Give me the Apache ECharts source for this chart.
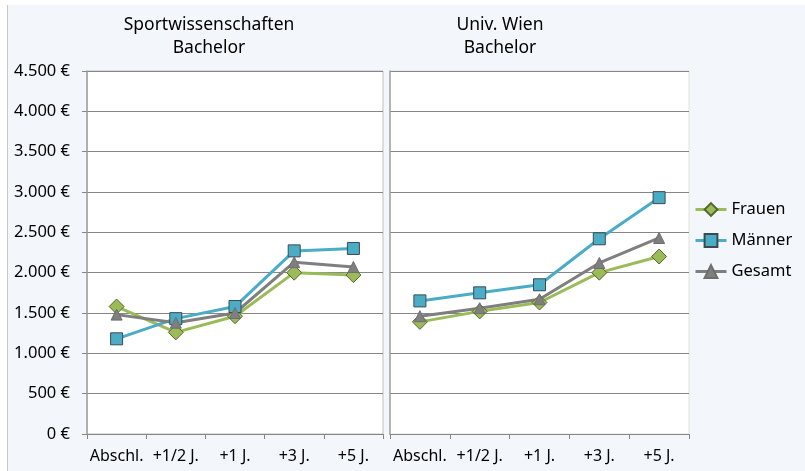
<!DOCTYPE html>
<html>
<head>
<meta charset="utf-8">
<title>Einkommen Bachelor</title>
<script src="https://cdn.jsdelivr.net/npm/echarts@6.0.0/dist/echarts.min.js"></script>
<style>
	html, body { margin: 0; padding: 0; background: #fff; }
	#chart_1 { width: 805px; height: 471px; }
</style>
</head>
<body>
<div id="chart_1"></div>
<script>
var categories = ['Abschl.', '+1/2 J.', '+1 J.', '+3 J.', '+5 J.'];
var seriesNames = ['Frauen', 'Männer', 'Gesamt'];
var panelTitles = ['Sportwissenschaften\nBachelor', 'Univ. Wien\nBachelor'];

// Sportwissenschaften Bachelor
var sportFrauen = [1580, 1260, 1460, 2000, 1970];
var sportMaenner = [1180, 1430, 1580, 2270, 2300];
var sportGesamt = [1480, 1380, 1500, 2130, 2070];

// Univ. Wien Bachelor
var wienFrauen = [1390, 1520, 1630, 2000, 2200];
var wienMaenner = [1650, 1750, 1850, 2420, 2930];
var wienGesamt = [1460, 1560, 1670, 2120, 2430];

var yMin = 0, yMax = 4500, yStep = 500;

(function() {
	var myChart = echarts.init(document.getElementById('chart_1'));
	var font = 'Noto Sans';
	var gridLine = '#868686';

	function euro(v) {
		return String(v).replace(/\B(?=(\d{3})+(?!\d))/g, '.') + ' €';
	}

	var styles = [{
		color: '#9BBB59', symbol: 'diamond', symbolSize: 15, border: '#55652f'
	}, {
		color: '#4BACC6', symbol: 'rect', symbolSize: 12, border: '#3b4a50'
	}, {
		color: '#7F7F7F', symbol: 'triangle', symbolSize: 11, border: '#6e6e6e'
	}];

	function makeSeries(name, data, idx, st) {
		return {
			name: name,
			type: 'line',
			xAxisIndex: idx,
			yAxisIndex: idx,
			data: data,
			symbol: st.symbol,
			symbolSize: st.symbolSize,
			showAllSymbol: true,
			animation: false,
			lineStyle: { color: st.color, width: 3 },
			itemStyle: { color: st.color, borderColor: st.border, borderWidth: 1 },
			z: 3
		};
	}

	var panels = [
		[sportFrauen, sportMaenner, sportGesamt],
		[wienFrauen, wienMaenner, wienGesamt]
	];
	var series = [];
	for (var p = 0; p < panels.length; p++) {
		for (var s = 0; s < seriesNames.length; s++) {
			series.push(makeSeries(seriesNames[s], panels[p][s], p, styles[s]));
		}
	}

	function xAxis(idx) {
		return {
			type: 'category',
			gridIndex: idx,
			data: categories,
			boundaryGap: true,
			axisLine: { lineStyle: { color: gridLine, width: 1 } },
			axisTick: { show: true, length: 5, interval: 0, lineStyle: { color: gridLine } },
			axisLabel: { interval: 0, margin: 14, color: '#000', fontSize: 16, fontFamily: font }
		};
	}

	function yAxis(idx) {
		return {
			type: 'value',
			gridIndex: idx,
			min: yMin,
			max: yMax,
			interval: yStep,
			axisLine: { show: true, lineStyle: { color: '#a0a0a0', width: 1.5 } },
			axisTick: { show: idx === 0, length: 5, lineStyle: { color: gridLine } },
			axisLabel: {
				show: idx === 0,
				margin: 17,
				color: '#000',
				fontSize: 16.5,
				fontFamily: font,
				formatter: euro
			},
			splitLine: { show: true, lineStyle: { color: gridLine, width: 1 } }
		};
	}

	var titleStyle = { fontSize: 17.5, fontWeight: 'normal', color: '#000', lineHeight: 23, fontFamily: font };

	var option = {
		backgroundColor: '#fff',
		textStyle: { fontFamily: font },
		graphic: [{
			type: 'rect',
			z: -10,
			silent: true,
			shape: { x: 7, y: 5, width: 798, height: 466 },
			style: { fill: '#f3f6fb' }
		}, {
			type: 'line',
			z: -9,
			silent: true,
			shape: { x1: 7.5, y1: 5, x2: 7.5, y2: 471 },
			style: { stroke: '#c8c8c8', lineWidth: 1 }
		}],
		title: [{
			text: panelTitles[0],
			left: 209,
			top: 14,
			padding: 0,
			textAlign: 'center',
			textStyle: titleStyle
		}, {
			text: panelTitles[1],
			left: 500,
			top: 14,
			padding: 0,
			textAlign: 'center',
			textStyle: titleStyle
		}],
		legend: {
			orient: 'vertical',
			left: 689,
			top: 196,
			itemWidth: 31,
			itemHeight: 16,
			itemGap: 14,
			data: seriesNames,
			lineStyle: { width: 3 },
			textStyle: { fontSize: 16.5, color: '#000', fontFamily: font }
		},
		grid: [{
			left: 87, right: 422, top: 71, bottom: 37,
			show: true, backgroundColor: '#fff', borderColor: '#bfbfbf', borderWidth: 1
		}, {
			left: 390, right: 116, top: 71, bottom: 37,
			show: true, backgroundColor: '#fff', borderColor: '#e0e0e0', borderWidth: 1
		}],
		xAxis: [xAxis(0), xAxis(1)],
		yAxis: [yAxis(0), yAxis(1)],
		series: series
	};

	myChart.setOption(option);
	window.addEventListener('resize', function() {
		myChart.resize();
	});
})();
</script>
</body>
</html>
